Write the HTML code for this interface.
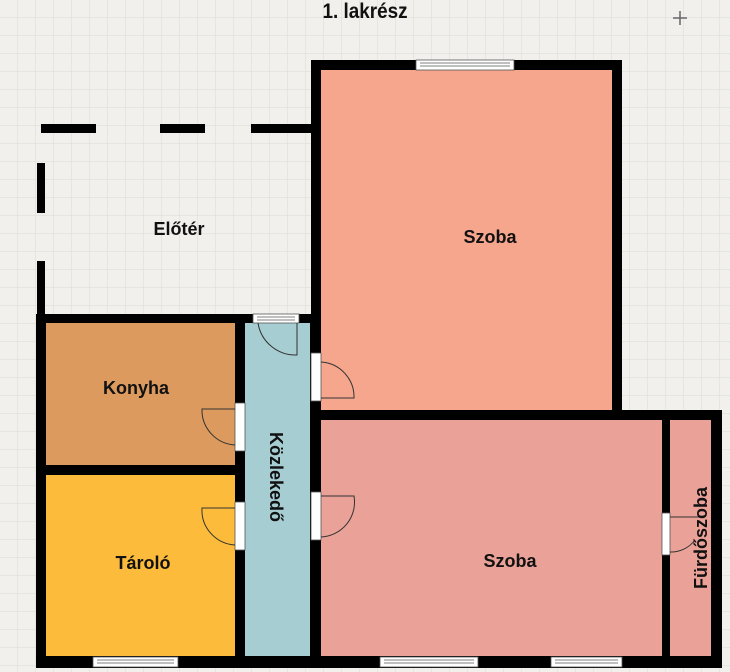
<!DOCTYPE html>
<html><head><meta charset="utf-8"><style>
html,body{margin:0;padding:0;width:730px;height:672px;overflow:hidden;background:#f1f0ec}
svg{display:block}
text{font-family:"Liberation Sans",sans-serif;font-weight:bold;fill:#111}
</style></head><body>
<svg width="730" height="672" viewBox="0 0 730 672">
<defs>
<pattern id="g" width="18" height="18" patternUnits="userSpaceOnUse">
<path d="M18 0V18M0 18H18" stroke="#dcdcd6" stroke-width="1" fill="none"/>
</pattern>
</defs>
<rect width="730" height="672" fill="#f1f0ec"/>
<rect width="730" height="672" fill="url(#g)"/>
<text x="365" y="18" font-size="21" text-anchor="middle" transform="translate(365 0) scale(0.9 1) translate(-365 0)">1. lakrész</text>
<path d="M673 18H687M680 11V25" stroke="#666" stroke-width="1.5"/>

<g fill="#000">
<rect x="41" y="124" width="55" height="9"/>
<rect x="160" y="124" width="45" height="9"/>
<rect x="251" y="124" width="62" height="9"/>
<rect x="37" y="163" width="8" height="50"/>
<rect x="37" y="261" width="8" height="55"/>
</g>
<text x="179" y="235" font-size="18" text-anchor="middle">Előtér</text>

<rect x="311" y="60" width="311" height="360" fill="#000"/>
<rect x="311" y="410" width="411" height="258" fill="#000"/>
<rect x="36" y="314" width="285" height="354" fill="#000"/>

<rect x="321" y="70" width="291" height="340" fill="#f5a68c"/>
<rect x="321" y="420" width="341" height="236" fill="#eaa198"/>
<rect x="670" y="420" width="41" height="236" fill="#eaa198"/>
<rect x="46" y="323" width="189" height="142" fill="#dc9a5e"/>
<rect x="46" y="475" width="189" height="181" fill="#fcbb3a"/>
<rect x="245" y="323" width="65" height="333" fill="#a6cdd2"/>

<g fill="#fff" stroke="#555" stroke-width="0.8">
<rect x="416" y="60" width="98" height="10"/>
<rect x="93" y="657" width="85" height="10"/>
<rect x="380" y="657" width="98" height="10"/>
<rect x="551" y="657" width="71" height="10"/>
<rect x="253" y="314" width="46" height="9"/>
</g>
<g stroke="#555" stroke-width="0.7">
<path d="M420 63H510M420 66H510M97 660H174M97 663H174M384 660H474M384 663H474M555 660H618M555 663H618M257 317H295M257 320H295"/>
</g>

<g fill="#fff" stroke="#555" stroke-width="0.8">
<rect x="311" y="353" width="10" height="48"/>
<rect x="311" y="492" width="10" height="48"/>
<rect x="235" y="403" width="10" height="48"/>
<rect x="235" y="502" width="10" height="48"/>
<rect x="662" y="513" width="8" height="42"/>
</g>
<g stroke="#333" stroke-width="1" fill="none">
<path d="M321 398H354A35 35 0 0 0 321 362"/>
<path d="M321 496H354A35 35 0 0 1 321 537"/>
<path d="M235 409H202A35 35 0 0 0 235 445"/>
<path d="M235 508H202A35 35 0 0 0 235 545"/>
<path d="M297 323V355A38 38 0 0 1 258 323"/>
<path d="M670 517H700M670 552A30 30 0 0 0 695 540"/>
</g>

<text x="490" y="243" font-size="18" text-anchor="middle">Szoba</text>
<text x="510" y="567" font-size="18" text-anchor="middle">Szoba</text>
<text x="136" y="394" font-size="18" text-anchor="middle">Konyha</text>
<text x="143" y="569" font-size="18" text-anchor="middle">Tároló</text>
<text transform="translate(270 477) rotate(90)" font-size="18" text-anchor="middle">Közlekedő</text>
<text transform="translate(707 538) rotate(-90)" font-size="18" text-anchor="middle">Fürdőszoba</text>
</svg>
</body></html>
